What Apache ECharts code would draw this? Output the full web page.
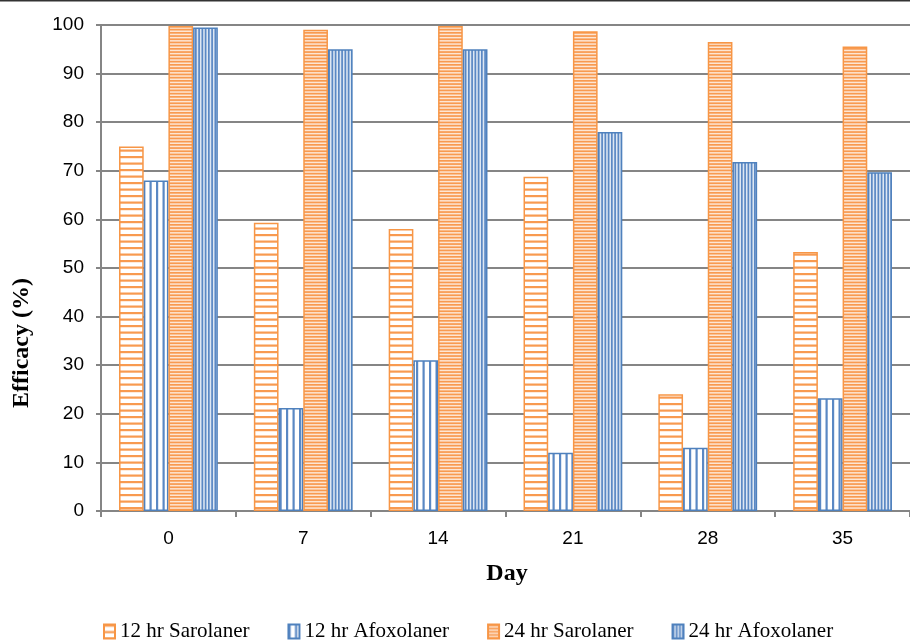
<!DOCTYPE html>
<html>
<head>
<meta charset="utf-8">
<script src="https://cdn.jsdelivr.net/npm/echarts@6/dist/echarts.min.js"></script>
<style>
html,body{margin:0;padding:0;background:#fff;}
#chart{width:910px;height:641px;}
</style>
</head>
<body>
<div id="chart"></div>
<script>
const days = ['0', '7', '14', '21', '28', '35'];
const sarolaner12 = [75, 59.3, 58, 68.8, 24, 53.3];
const afoxolaner12 = [68, 21.2, 31, 12, 13, 23.2];
const sarolaner24 = [99.8, 99, 99.8, 98.7, 96.5, 95.6];
const afoxolaner24 = [99.5, 95, 95, 78, 71.8, 69.7];
const seriesNames = ['12 hr Sarolaner', '12 hr Afoxolaner', '24 hr Sarolaner', '24 hr Afoxolaner'];
const yTicks = [0, 10, 20, 30, 40, 50, 60, 70, 80, 90, 100];

const ORANGE = '#F79646';
const BLUE = '#4F81BD';

function stripes(horizontal, size, count, lineW, lineColor, bg) {
  const c = document.createElement('canvas');
  c.width = horizontal ? 8 : size;
  c.height = horizontal ? size : 8;
  const ctx = c.getContext('2d');
  ctx.fillStyle = bg;
  ctx.fillRect(0, 0, c.width, c.height);
  ctx.fillStyle = lineColor;
  const period = size / count;
  for (let i = 0; i < count; i++) {
    const p = i * period;
    if (horizontal) ctx.fillRect(0, p, c.width, lineW);
    else ctx.fillRect(p, 0, lineW, c.height);
  }
  return { image: c, repeat: 'repeat' };
}

const patSar12 = stripes(true, 13, 2, 2.2, '#F89A50', '#FFFFFF');
const patAfo12 = stripes(false, 13, 2, 2.2, '#5A88C4', '#FFFFFF');
const patSar24 = stripes(true, 16, 5, 1.7, '#F89A50', '#FDE6D4');
const patAfo24 = stripes(false, 13, 4, 1.7, '#5A88C4', '#DDE7F3');

const chart = echarts.init(document.getElementById('chart'), null, { renderer: 'canvas' });

function barSeries(name, data, pattern, border) {
  return {
    name: name,
    type: 'bar',
    data: data,
    barWidth: 24.7,
    barGap: '0%',
    itemStyle: { color: pattern, borderColor: border, borderWidth: 1.5 }
  };
}

const option = {
  animation: false,
  backgroundColor: '#ffffff',
  grid: { left: 101, top: 25, width: 818, height: 486, containLabel: false },
  legend: {
    data: seriesNames,
    left: 103,
    top: 621,
    padding: 0,
    icon: 'rect',
    itemWidth: 11,
    itemHeight: 14,
    itemGap: 38,
    textStyle: { fontFamily: 'Liberation Serif', fontSize: 21, color: '#000' }
  },
  xAxis: {
    type: 'category',
    data: days,
    boundaryGap: true,
    axisLine: { lineStyle: { color: '#858585', width: 2 } },
    axisTick: { show: true, length: 6, inside: false, alignWithLabel: false, lineStyle: { color: '#858585', width: 2 } },
    axisLabel: { fontFamily: 'Liberation Sans', fontSize: 19, color: '#000', margin: 18 },
    splitLine: { show: false }
  },
  yAxis: {
    type: 'value',
    min: 0,
    max: 100,
    interval: 10,
    axisLine: { show: true, lineStyle: { color: '#858585', width: 2 } },
    axisTick: { show: true, length: 5, lineStyle: { color: '#858585', width: 2 } },
    axisLabel: {
      fontFamily: 'Liberation Sans', fontSize: 19, color: '#000', margin: 17,
      formatter: function (v) { return yTicks.indexOf(v) >= 0 ? String(v) : ''; }
    },
    splitLine: { show: true, lineStyle: { color: '#858585', width: 2 } }
  },
  graphic: [
    { type: 'rect', left: 0, top: 0, shape: { width: 910, height: 1.5 }, style: { fill: '#333' }, z: 100 },
    {
      type: 'text', x: 22, y: 343, rotation: Math.PI / 2,
      style: { text: 'Efficacy (%)', font: 'bold 24px "Liberation Serif"', fill: '#000', textAlign: 'center', textVerticalAlign: 'middle' }
    },
    {
      type: 'text', x: 507, y: 574,
      style: { text: 'Day', font: 'bold 24px "Liberation Serif"', fill: '#000', textAlign: 'center', textVerticalAlign: 'middle' }
    }
  ],
  series: [
    barSeries(seriesNames[0], sarolaner12, patSar12, ORANGE),
    barSeries(seriesNames[1], afoxolaner12, patAfo12, BLUE),
    barSeries(seriesNames[2], sarolaner24, patSar24, ORANGE),
    barSeries(seriesNames[3], afoxolaner24, patAfo24, BLUE)
  ]
};
chart.setOption(option);
</script>
</body>
</html>
